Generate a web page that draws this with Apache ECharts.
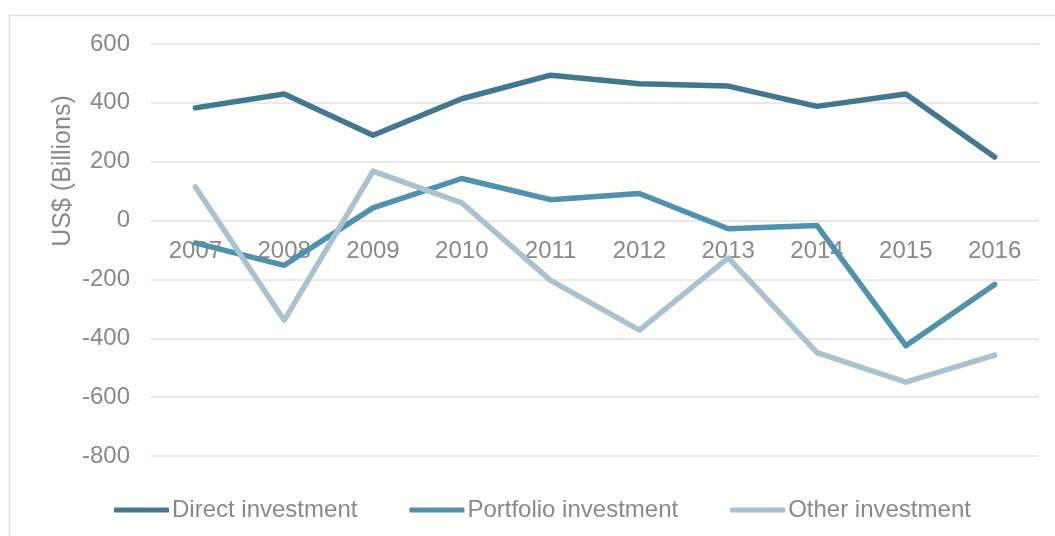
<!DOCTYPE html>
<html>
<head>
<meta charset="utf-8">
<script src="https://cdn.jsdelivr.net/npm/echarts@6/dist/echarts.min.js"></script>
<style>
  html, body { margin: 0; padding: 0; background: #ffffff; }
  #chart { width: 1055px; height: 536px; }
</style>
</head>
<body>
<div id="chart"></div>
<script>
var years = ['2007', '2008', '2009', '2010', '2011', '2012', '2013', '2014', '2015', '2016'];
var direct = [383, 430, 290, 414, 494, 465, 457, 388, 430, 216];
var portfolio = [-76, -152, 43, 143, 71, 92, -28, -17, -425, -217];
var other = [114, -339, 168, 60, -203, -372, -127, -449, -549, -457];

var textColor = '#898989';
var gridColor = '#e2e2e2';
var font = '"Liberation Sans", Arial, sans-serif';

var myChart = echarts.init(document.getElementById('chart'));

function lineSeries(name, data, color) {
    return {
        name: name,
        type: 'line',
        data: data,
        symbol: 'none',
        color: color,
        lineStyle: { color: color, width: 5.5, cap: 'round', join: 'round' },
        animation: false
    };
}

myChart.setOption({
    animation: false,
    backgroundColor: '#ffffff',
    graphic: [
        {
            type: 'rect',
            shape: { x: 9.5, y: 15.5, width: 1060, height: 540 },
            style: { fill: '#fefefc', stroke: '#e0e0e0', lineWidth: 1.5 },
            z: -10
        },
        {
            type: 'text',
            x: 63,
            y: 171,
            rotation: Math.PI / 2,
            style: {
                text: 'US$ (Billions)',
                fill: textColor,
                font: '25px ' + font,
                align: 'center',
                verticalAlign: 'middle'
            }
        }
    ],
    grid: { left: 151, right: 16, top: 44, bottom: 80, containLabel: false },
    legend: {
        bottom: 9,
        left: 109,
        itemWidth: 55,
        itemHeight: 5,
        itemGap: 52,
        icon: 'roundRect',
        textStyle: { color: textColor, fontSize: 24, fontFamily: font, padding: [0, 0, 0, -2] },
        data: ['Direct investment', 'Portfolio investment', 'Other investment']
    },
    xAxis: {
        type: 'category',
        data: years,
        boundaryGap: true,
        offset: -235,
        axisLine: { show: false, onZero: false },
        axisTick: { show: false },
        axisLabel: { color: textColor, fontSize: 24, fontFamily: font, margin: 18 }
    },
    yAxis: {
        type: 'value',
        min: -800,
        max: 600,
        interval: 200,
        axisLine: { show: false },
        axisTick: { show: false },
        axisLabel: { color: textColor, fontSize: 24, fontFamily: font, margin: 21 },
        splitLine: { lineStyle: { color: gridColor, width: 1.5 } }
    },
    series: [
        lineSeries('Direct investment', direct, '#41778f'),
        lineSeries('Portfolio investment', portfolio, '#4f92ad'),
        lineSeries('Other investment', other, '#a9c2cf')
    ]
});
</script>
</body>
</html>
